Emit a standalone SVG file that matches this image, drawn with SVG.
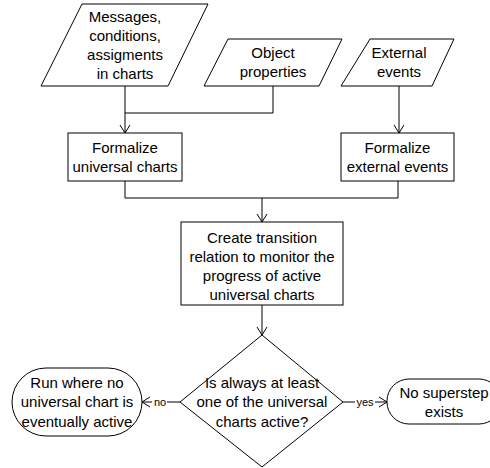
<svg xmlns="http://www.w3.org/2000/svg" width="490" height="468" viewBox="0 0 490 468">
  <defs>
    <marker id="arrow" markerUnits="userSpaceOnUse" markerWidth="12" markerHeight="12" refX="9" refY="6" orient="auto">
      <path d="M1,1 L9,6 L1,11" fill="none" stroke="#000" stroke-width="1"/>
    </marker>
    <style>
      .shape { fill: #fff; stroke: #000; stroke-width: 1; }
      .line { fill: none; stroke: #000; stroke-width: 1; }
      .txt { font-family: "Liberation Sans", Arial, sans-serif; font-size: 15px; fill: #000; text-anchor: middle; }
      .lbl { font-family: "Liberation Sans", Arial, sans-serif; font-size: 11px; fill: #000; text-anchor: middle; }
    </style>
  </defs>
  <rect width="490" height="468" fill="#fff"/>

  <!-- connectors -->
  <g id="connectors">
    <polyline class="line" points="125,86 125,133" marker-end="url(#arrow)"/>
    <polyline class="line" points="273,86 273,113 125,113"/>
    <polyline class="line" points="399,86 399,133" marker-end="url(#arrow)"/>
    <polyline class="line" points="125,181 125,198 398,198 398,181"/>
    <polyline class="line" points="262,198 262,222" marker-end="url(#arrow)"/>
    <polyline class="line" points="262,305 262,335" marker-end="url(#arrow)"/>
    <polyline class="line" points="180,402 142,402" marker-end="url(#arrow)"/>
    <polyline class="line" points="343,402 387,402" marker-end="url(#arrow)"/>
    <rect x="152" y="396" width="15" height="12" fill="#fff"/>
    <text class="lbl" x="160" y="406">no</text>
    <rect x="355" y="396" width="20" height="12" fill="#fff"/>
    <text class="lbl" x="365" y="406">yes</text>
  </g>

  <g id="messages">
    <polygon class="shape" points="82,4 208,4 168,86 41,86"/>
    <text class="txt" x="125" y="22">Messages,</text>
    <text class="txt" x="125" y="41">conditions,</text>
    <text class="txt" x="125" y="60">assigments</text>
    <text class="txt" x="125" y="79">in charts</text>
  </g>

  <g id="object-properties">
    <polygon class="shape" points="228,39 342,39 319,86 204,86"/>
    <text class="txt" x="273" y="58">Object</text>
    <text class="txt" x="273" y="77">properties</text>
  </g>

  <g id="external-events">
    <polygon class="shape" points="370,39 454,39 432,86 341,86"/>
    <text class="txt" x="399" y="58">External</text>
    <text class="txt" x="399" y="77">events</text>
  </g>

  <g id="formalize-charts">
    <rect class="shape" x="68" y="133" width="114" height="48"/>
    <text class="txt" x="125" y="153">Formalize</text>
    <text class="txt" x="125" y="172">universal charts</text>
  </g>

  <g id="formalize-events">
    <rect class="shape" x="341" y="133" width="113" height="48"/>
    <text class="txt" x="397.5" y="153">Formalize</text>
    <text class="txt" x="397.5" y="172">external events</text>
  </g>

  <g id="transition-relation">
    <rect class="shape" x="181" y="222" width="162" height="83"/>
    <text class="txt" x="262" y="243">Create transition</text>
    <text class="txt" x="262" y="262">relation to monitor the</text>
    <text class="txt" x="262" y="281">progress of active</text>
    <text class="txt" x="262" y="300">universal charts</text>
  </g>

  <g id="decision">
    <polygon class="shape" points="262,335 343,402 262,467 180,402"/>
    <text class="txt" x="262" y="388">Is always at least</text>
    <text class="txt" x="262" y="407">one of the universal</text>
    <text class="txt" x="262" y="427">charts active?</text>
  </g>

  <g id="no-active-run">
    <rect class="shape" x="12" y="368" width="130" height="68" rx="34" ry="34"/>
    <text class="txt" x="77" y="388">Run where no</text>
    <text class="txt" x="77" y="407">universal chart is</text>
    <text class="txt" x="77" y="427">eventually active</text>
  </g>

  <g id="no-superstep">
    <rect class="shape" x="387" y="379" width="114" height="45" rx="22" ry="22"/>
    <text class="txt" x="444" y="398">No superstep</text>
    <text class="txt" x="444" y="417">exists</text>
  </g>
</svg>
